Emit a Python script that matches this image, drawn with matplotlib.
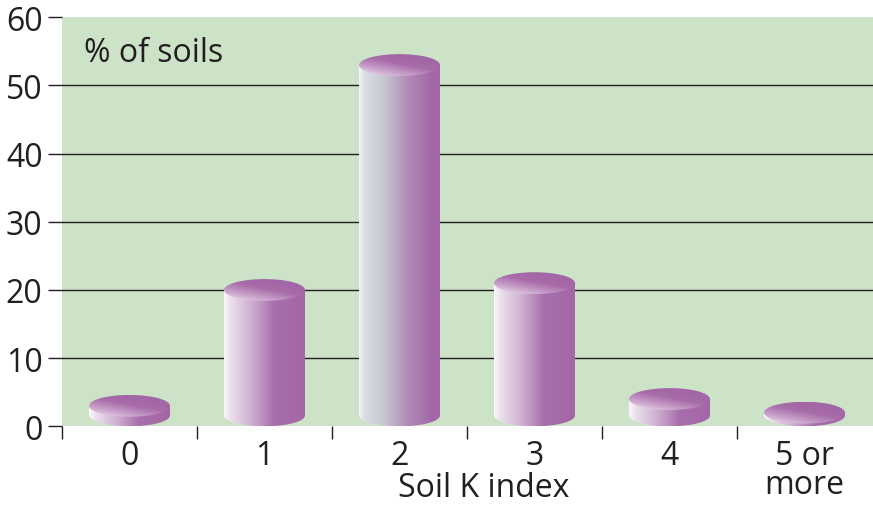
import numpy as np
import matplotlib
matplotlib.use('Agg')
import matplotlib.pyplot as plt
from matplotlib.patches import Polygon, Ellipse
from matplotlib.colors import LinearSegmentedColormap

plt.rcParams['font.family'] = ['Open Sans', 'DejaVu Sans']

k_index = ['0', '1', '2', '3', '4', '5 or\nmore']
pct_soils = [3, 20, 53, 21, 4, 2]
y_ticks = [0, 10, 20, 30, 40, 50, 60]

ink = '#231f20'
green = '#cce3c8'
fs = 23

side_cmap = LinearSegmentedColormap.from_list('side', [
    (0.0, '#fbf8fb'), (0.08, '#ece0ec'), (0.35, '#cdaed0'),
    (0.62, '#a96fac'), (1.0, '#a366a6')])
side_cmap_grey = LinearSegmentedColormap.from_list('side_grey', [
    (0.0, '#f4f6f7'), (0.07, '#d9dee2'), (0.3, '#c8c8d3'),
    (0.62, '#b188b6'), (0.9, '#a468a8'), (1.0, '#a366a6')])
top_cmap = LinearSegmentedColormap.from_list('top', [
    (0.0, '#f3eaf3'), (0.35, '#c9a3cb'), (0.7, '#a86ca9'), (1.0, '#a366a6')])


def draw_cylinder(ax, x, top, cmap, hw=0.3, ry=1.6):
    base = ry
    th = np.linspace(np.pi, 2 * np.pi, 80)
    arc = np.column_stack([x + hw * np.cos(th), base + ry * np.sin(th)])
    side = np.vstack([arc, [[x + hw, top], [x - hw, top]]])
    side_patch = Polygon(side, closed=True, facecolor='none', edgecolor='none',
                         transform=ax.transData)
    ax.add_patch(side_patch)
    grad = np.linspace(0, 1, 256)[None, :]
    im = ax.imshow(grad, cmap=cmap, extent=(x - hw, x + hw, base - ry, top),
                   aspect='auto', origin='lower', zorder=3,
                   interpolation='bilinear')
    im.set_clip_path(side_patch)

    # lid: light towards lower left, full purple to the upper right
    lid = Ellipse((x, top), 2 * hw, 2 * ry, facecolor='none',
                  edgecolor='none', transform=ax.transData)
    ax.add_patch(lid)
    gx, gy = np.meshgrid(np.linspace(0, 1, 128), np.linspace(0, 1, 64))
    val = np.clip(0.55 * gx + 0.75 * gy, 0, 1)
    im2 = ax.imshow(val, cmap=top_cmap, vmin=0, vmax=1,
                    extent=(x - hw, x + hw, top - ry, top + ry),
                    aspect='auto', origin='lower', zorder=4,
                    interpolation='bilinear')
    im2.set_clip_path(lid)


fig = plt.figure(figsize=(8.73, 5.06), dpi=100)
ax = fig.add_axes([62 / 873, 1 - 427.3 / 506, 811 / 873, 409 / 506])
ax.set_facecolor(green)
for s in ax.spines.values():
    s.set_visible(False)

xmin, xmax = -0.5, -0.5 + 811 / 135
for v in y_ticks[1:-1]:
    ax.plot([xmin, xmax], [v, v], color=ink, lw=1.0, zorder=1)

for i, v in enumerate(pct_soils):
    draw_cylinder(ax, i, v, side_cmap_grey if i == 2 else side_cmap)

ax.set_xlim(xmin, xmax)
ax.set_ylim(0, 60)

ax.set_yticks(y_ticks)
ax.set_yticklabels([str(v) for v in y_ticks], fontsize=fs, color=ink)
ax.tick_params(axis='y', length=10, width=1, color=ink, pad=4)

ax.set_xticks(range(len(k_index)))
ax.set_xticklabels(k_index, fontsize=fs, color=ink, linespacing=0.85)
ax.set_xticks(np.arange(-0.5, len(k_index) - 1, 1.0), minor=True)
ax.tick_params(axis='x', which='major', length=0, pad=9)
ax.tick_params(axis='x', which='minor', length=9.5, width=1, color=ink)

ax.text(22 / 811, 1 - (62 - 18.3) / 409, '% of soils',
        transform=ax.transAxes, fontsize=fs, color=ink, va='baseline')
fig.text(484 / 873, 1 - 497 / 506, 'Soil K index', ha='center',
         va='baseline', fontsize=fs, color=ink)

fig.savefig('out.png', dpi=100)
